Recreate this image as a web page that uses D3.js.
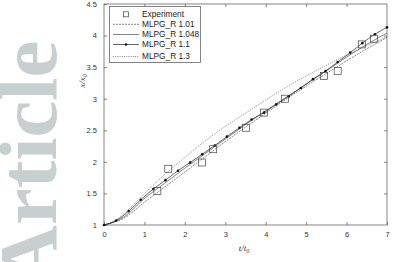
<!DOCTYPE html>
<html>
<head>
<meta charset="utf-8">
<script src="https://cdn.jsdelivr.net/npm/d3@7"></script>
<style>
  body { margin: 0; background: #fff; }
  svg { display: block; }
</style>
</head>
<body>
<svg id="chart"></svg>
<script>
const xTicks = [0, 1, 2, 3, 4, 5, 6, 7];
const yTicks = [1, 1.5, 2, 2.5, 3, 3.5, 4, 4.5];

const expX = [1.32, 1.59, 2.42, 2.70, 3.51, 3.96, 4.48, 5.44, 5.78, 6.38, 6.68];
const expY = [1.54, 1.89, 1.99, 2.20, 2.54, 2.78, 3.00, 3.36, 3.44, 3.86, 3.95];

const r101X = [0, 0.5, 1, 1.5, 2, 2.5, 3, 3.5, 4, 4.5, 5, 5.5, 6, 6.5, 7];
const r101Y = [1, 1.11, 1.36, 1.60, 1.84, 2.08, 2.32, 2.55, 2.77, 2.99, 3.20, 3.40, 3.60, 3.79, 3.97];

const r1048X = [0, 0.5, 1, 1.5, 2, 2.5, 3, 3.5, 4, 4.5, 5, 5.5, 6, 6.5, 7];
const r1048Y = [1, 1.13, 1.42, 1.66, 1.90, 2.13, 2.36, 2.59, 2.81, 3.02, 3.23, 3.44, 3.66, 3.86, 4.04];

const r11X = [0, 0.30, 0.61, 0.91, 1.22, 1.52, 1.83, 2.13, 2.43, 2.74, 3.04, 3.35,
              3.65, 3.96, 4.26, 4.57, 4.87, 5.17, 5.48, 5.78, 6.09, 6.39, 6.70, 7.0];
const r11Y = [1.00, 1.07, 1.22, 1.40, 1.57, 1.71, 1.86, 1.99, 2.12, 2.26, 2.40, 2.54,
              2.67, 2.78, 2.91, 3.04, 3.17, 3.31, 3.44, 3.58, 3.73, 3.88, 4.02, 4.13];

const r13X = [0, 0.3, 0.6, 0.9, 1.2, 1.5, 2, 2.5, 3, 3.5, 4, 4.5, 5, 5.5, 6, 6.5, 7];
const r13Y = [1, 1.08, 1.24, 1.43, 1.62, 1.80, 2.07, 2.33, 2.56, 2.77, 2.98, 3.18, 3.36, 3.53, 3.69, 3.84, 3.98];

const legendLabels = ["Experiment", "MLPG_R 1.01", "MLPG_R 1.048", "MLPG_R 1.1", "MLPG_R 1.3"];

const width = 394, height = 262;
const margin = { top: 4, right: 7, bottom: 37, left: 104 };

const svg = d3.select("#chart").attr("width", width).attr("height", height);

// watermark
svg.append("text")
  .attr("transform", "translate(56,285) rotate(-90)")
  .attr("font-family", "Liberation Serif, serif")
  .attr("font-weight", "bold")
  .attr("font-size", 83)
  .attr("fill", "#c8cfd0")
  .text("Article");

const x = d3.scaleLinear().domain([0, 7]).range([margin.left, width - margin.right]);
const y = d3.scaleLinear().domain([1, 4.5]).range([height - margin.bottom, margin.top]);

const axisColor = "#666";
const fontFam = "Liberation Sans, Arial, sans-serif";

// box
svg.append("rect")
  .attr("x", x(0)).attr("y", y(4.5))
  .attr("width", x(7) - x(0)).attr("height", y(1) - y(4.5))
  .attr("fill", "none").attr("stroke", axisColor).attr("stroke-width", 0.8);

// axes (ticks inward)
const styleAxis = g => {
  g.select(".domain").remove();
  g.selectAll(".tick line").attr("stroke", axisColor).attr("stroke-width", 0.8);
  g.selectAll(".tick text").attr("fill", "#333").style("font-size", "7.5px").style("font-family", fontFam);
};

svg.append("g")
  .attr("transform", `translate(0,${y(1)})`)
  .call(d3.axisBottom(x).tickValues(xTicks).tickFormat(d3.format("d")).tickSizeInner(-3).tickSizeOuter(0).tickPadding(7))
  .call(styleAxis);

svg.append("g")
  .attr("transform", `translate(0,${y(4.5)})`)
  .call(d3.axisTop(x).tickValues(xTicks.slice(1, -1)).tickFormat("").tickSizeInner(-3).tickSizeOuter(0))
  .call(styleAxis);

svg.append("g")
  .attr("transform", `translate(${x(0)},0)`)
  .call(d3.axisLeft(y).tickValues(yTicks).tickFormat(d3.format("")).tickSizeInner(-3).tickSizeOuter(0).tickPadding(7))
  .call(styleAxis);

svg.append("g")
  .attr("transform", `translate(${x(7)},0)`)
  .call(d3.axisRight(y).tickValues(yTicks.slice(1, -1)).tickFormat("").tickSizeInner(-3).tickSizeOuter(0))
  .call(styleAxis);

// axis labels
const xl = svg.append("text")
  .attr("x", 244).attr("y", 251)
  .attr("text-anchor", "middle")
  .attr("font-family", "Liberation Serif, serif").attr("font-style", "italic")
  .attr("font-size", 9).attr("fill", "#333");
xl.append("tspan").text("t/t");
xl.append("tspan").attr("font-size", 6).attr("dy", 2).text("0");

const yl = svg.append("text")
  .attr("transform", "translate(85,81) rotate(-90)")
  .attr("text-anchor", "middle")
  .attr("font-family", "Liberation Serif, serif").attr("font-style", "italic")
  .attr("font-size", 9).attr("fill", "#333");
yl.append("tspan").text("x/x");
yl.append("tspan").attr("font-size", 6).attr("dy", 2).text("0");

// curves
const line = d3.line().x(d => x(d[0])).y(d => y(d[1])).curve(d3.curveMonotoneX);
const series = [
  { xs: r101X, ys: r101Y, dash: "2,1", color: "#333", w: 0.6 },
  { xs: r1048X, ys: r1048Y, dash: null, color: "#333", w: 0.6 },
  { xs: r11X, ys: r11Y, dash: null, color: "#222", w: 0.7 },
  { xs: r13X, ys: r13Y, dash: "1,1.2", color: "#333", w: 0.6 }
];
series.forEach(s => {
  svg.append("path")
    .datum(d3.zip(s.xs, s.ys))
    .attr("d", line)
    .attr("fill", "none")
    .attr("stroke", s.color)
    .attr("stroke-width", s.w)
    .attr("stroke-dasharray", s.dash);
});

svg.append("g").selectAll("circle")
  .data(d3.zip(r11X, r11Y))
  .join("circle")
  .attr("cx", d => x(d[0])).attr("cy", d => y(d[1]))
  .attr("r", 1.3).attr("fill", "#111");

svg.append("g").selectAll("rect")
  .data(d3.zip(expX, expY))
  .join("rect")
  .attr("x", d => x(d[0]) - 3.5).attr("y", d => y(d[1]) - 3.5)
  .attr("width", 7).attr("height", 7)
  .attr("fill", "none").attr("stroke", "#444").attr("stroke-width", 0.7);

// legend
const lg = svg.append("g");
lg.append("rect")
  .attr("x", 109.5).attr("y", 6.5).attr("width", 91).attr("height", 56)
  .attr("fill", "#fff").attr("stroke", axisColor).attr("stroke-width", 0.8);

const rowY = [14.3, 24.3, 34.5, 44.5, 56.5];
legendLabels.forEach((lab, i) => {
  const yy = rowY[i];
  if (i === 0) {
    lg.append("rect").attr("x", 123.5).attr("y", yy - 2.5).attr("width", 5).attr("height", 5)
      .attr("fill", "none").attr("stroke", "#444").attr("stroke-width", 0.7);
  } else {
    const s = series[i - 1];
    lg.append("line").attr("x1", 113).attr("x2", 139).attr("y1", yy).attr("y2", yy)
      .attr("stroke", s.color).attr("stroke-width", s.w).attr("stroke-dasharray", s.dash);
    if (i === 3) lg.append("circle").attr("cx", 126).attr("cy", yy).attr("r", 1.3).attr("fill", "#111");
  }
  lg.append("text").attr("x", 142).attr("y", yy).attr("dy", "0.35em")
    .attr("font-family", fontFam).attr("font-size", 8.3).attr("fill", "#222")
    .text(lab);
});
</script>
</body>
</html>
